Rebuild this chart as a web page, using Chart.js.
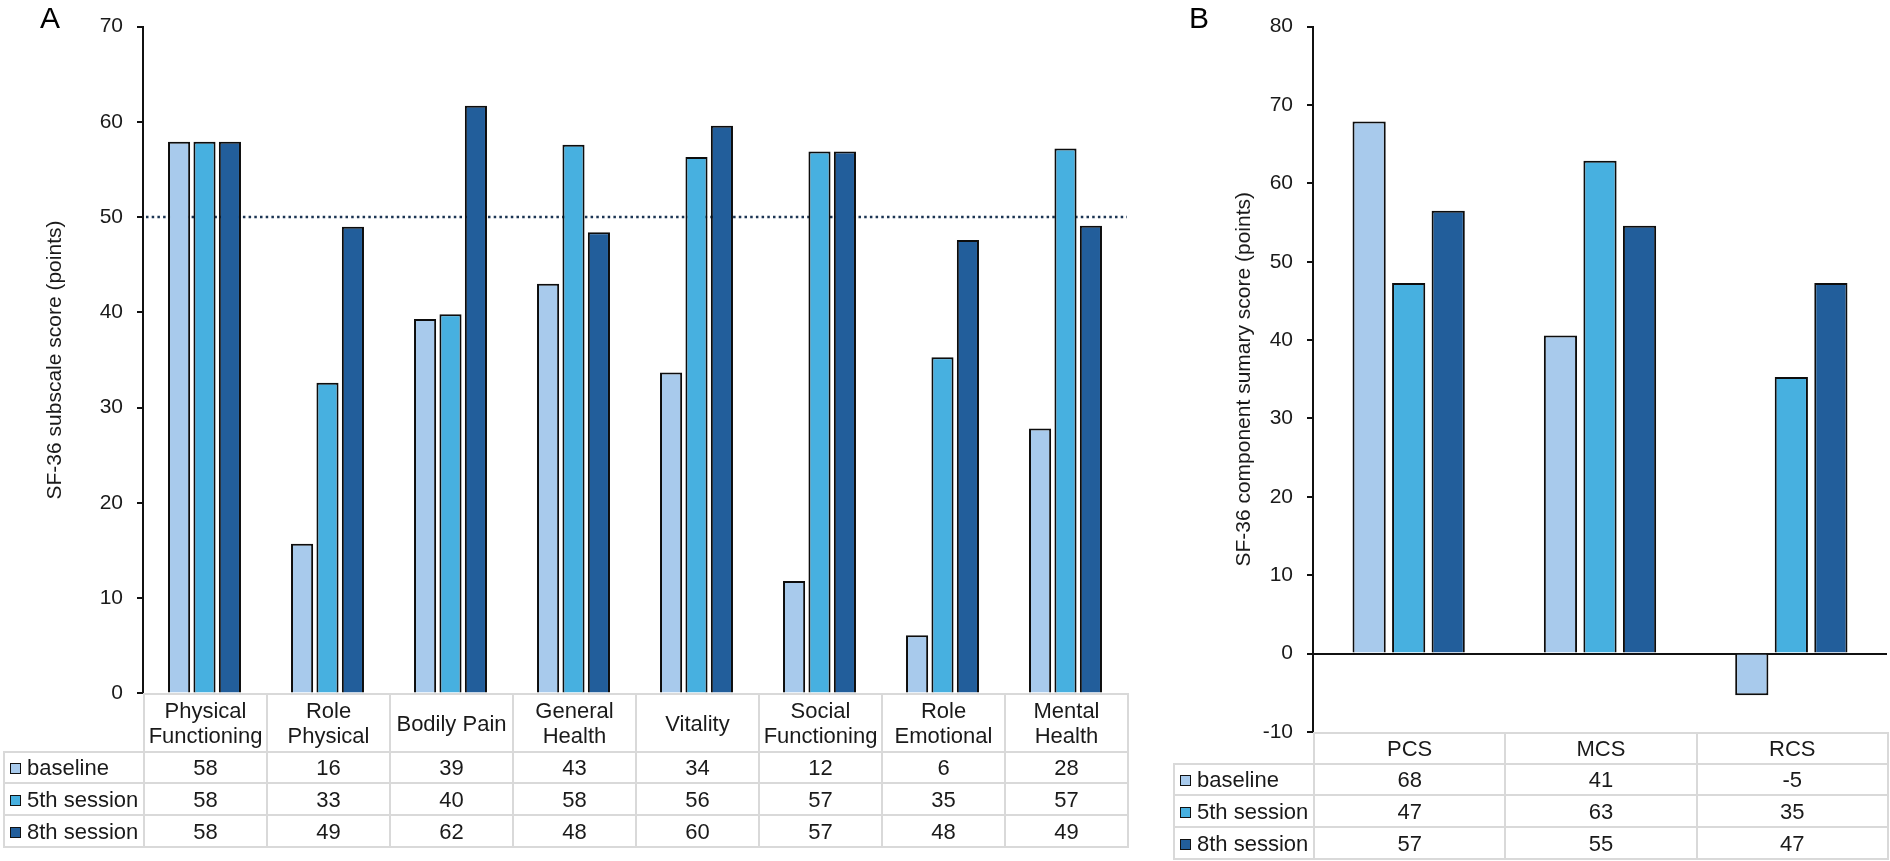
<!DOCTYPE html>
<html>
<head>
<meta charset="utf-8">
<script src="https://cdn.jsdelivr.net/npm/chart.js@4.4.0/dist/chart.umd.min.js"></script>
<style>
body { margin:0; background:#fff; font-family:"Liberation Sans", Arial, sans-serif; }
#page { position:relative; width:1890px; height:861px; overflow:hidden; background:#fff; }
canvas { position:absolute; top:0; }
#cA { left:0; }
#cB { left:1170px; }
.panel { position:absolute; font-size:30px; line-height:30px; color:#000; }
table.dt { position:absolute; border-collapse:collapse; table-layout:fixed; font-size:22px; color:#1a1a1a; }
table.dt td { border:2px solid #d9d9d9; text-align:center; padding:0; line-height:25px; overflow:hidden; }
table.dt td.lab { text-align:left; padding-left:5px; white-space:nowrap; }
table.dt td.corner { border-top:none; border-left:none; }
.sw { display:inline-block; width:9px; height:9px; border:1.5px solid #111; margin-right:6px; vertical-align:1px; }
</style>
</head>
<body>
<div id="page">
  <canvas id="cA" width="1130" height="720"></canvas>
  <canvas id="cB" width="720" height="760"></canvas>
  <div class="panel" style="left:40px; top:3px">A</div>
  <div class="panel" style="left:1189px; top:3px">B</div>
</div>
<script>
// dane - wykres A (podskale SF-36)
const subscales = [['Physical', 'Functioning'], ['Role', 'Physical'], 'Bodily Pain', ['General', 'Health'], 'Vitality', ['Social', 'Functioning'], ['Role', 'Emotional'], ['Mental', 'Health']]
const baselineA = [57.9, 15.7, 39.3, 43.0, 33.7, 11.8, 6.1, 27.8]
const session5A = [57.9, 32.6, 39.8, 57.6, 56.3, 56.9, 35.3, 57.2]
const session8A = [57.9, 49.0, 61.7, 48.4, 59.6, 56.9, 47.6, 49.1]

// dane - wykres B (skale sumaryczne)
const summaries = ['PCS', 'MCS', 'RCS']
const baselineB = [67.9, 40.6, -5.3]
const session5B = [47.3, 62.9, 35.3]
const session8B = [56.5, 54.6, 47.3]

const seriesNames = ['baseline', '5th session', '8th session']
const seriesColors = ['#a8caec', '#47b0e0', '#225e9b']
const normValue = 50

Chart.defaults.font.family = '"Liberation Sans", Arial, sans-serif'
Chart.defaults.color = '#1a1a1a'

// kropkowana linia normy
const normLinePlugin = {
  id: 'normLine',
  beforeDatasetsDraw(chart, args, opts) {
    if (opts.value == null) return
    const y = chart.scales.y.getPixelForValue(opts.value)
    const ctx = chart.ctx
    ctx.save()
    ctx.strokeStyle = '#1c3553'
    ctx.lineWidth = 2.5
    ctx.setLineDash([2.5, 3.2])
    ctx.beginPath()
    ctx.moveTo(chart.chartArea.left + 3, y)
    ctx.lineTo(chart.chartArea.right, y)
    ctx.stroke()
    ctx.restore()
  }
}

function makeChart(id, labels, series, cfg) {
  const datasets = series.map((d, i) => ({
    label: seriesNames[i],
    data: d,
    backgroundColor: seriesColors[i],
    borderColor: '#0d0d0d',
    borderWidth: 2,
    categoryPercentage: 0.62,
    barPercentage: cfg.barPct
  }))
  return new Chart(document.getElementById(id), {
    type: 'bar',
    data: { labels: labels, datasets: datasets },
    plugins: [normLinePlugin],
    options: {
      responsive: false,
      animation: false,
      devicePixelRatio: 1,
      layout: { padding: cfg.padding },
      plugins: {
        legend: { display: false },
        tooltip: { enabled: false },
        normLine: { value: cfg.norm }
      },
      scales: {
        x: { display: false },
        y: {
          min: cfg.min,
          max: cfg.max,
          afterFit: s => { s.width = 143 },
          ticks: { stepSize: 10, padding: 14, color: '#1a1a1a', font: { size: 21 } },
          border: { display: true, color: '#111', width: 2 },
          grid: {
            drawOnChartArea: cfg.zeroLine,
            color: c => (c.tick && c.tick.value === 0) ? '#111' : 'rgba(0,0,0,0)',
            lineWidth: 2,
            tickLength: 6,
            tickColor: '#111',
            tickWidth: 2
          },
          title: {
            display: true,
            text: cfg.title,
            color: '#1a1a1a',
            font: { size: cfg.titleSize },
            padding: { top: cfg.titlePad, bottom: 0 }
          }
        }
      }
    }
  })
}

// tabela danych pod wykresem
function buildTable(chart, canvasLeft, labels, series, headH) {
  const area = chart.chartArea
  const n = labels.length
  const colW = (area.right - area.left) / n
  const labW = 140
  const t = document.createElement('table')
  t.className = 'dt'
  t.style.left = (canvasLeft + area.left - labW) + 'px'
  t.style.top = area.bottom + 'px'
  t.style.width = (labW + colW * n) + 'px'

  const cg = document.createElement('colgroup')
  const c0 = document.createElement('col')
  c0.style.width = labW + 'px'
  cg.appendChild(c0)
  for (let i = 0; i < n; i++) {
    const c = document.createElement('col')
    c.style.width = colW + 'px'
    cg.appendChild(c)
  }
  t.appendChild(cg)

  const head = document.createElement('tr')
  head.style.height = headH + 'px'
  const corner = document.createElement('td')
  corner.className = 'corner'
  head.appendChild(corner)
  for (let i = 0; i < n; i++) {
    const td = document.createElement('td')
    td.innerHTML = Array.isArray(labels[i]) ? labels[i].join('<br>') : labels[i]
    head.appendChild(td)
  }
  t.appendChild(head)

  for (let s = 0; s < series.length; s++) {
    const tr = document.createElement('tr')
    tr.style.height = (s == 0 ? 31 : 32) + 'px'
    const lab = document.createElement('td')
    lab.className = 'lab'
    lab.innerHTML = '<span class="sw" style="background:' + seriesColors[s] + '"></span>' + seriesNames[s]
    tr.appendChild(lab)
    for (let i = 0; i < n; i++) {
      const td = document.createElement('td')
      td.textContent = Math.round(series[s][i])
      tr.appendChild(td)
    }
    t.appendChild(tr)
  }
  document.getElementById('page').appendChild(t)
}

const chartA = makeChart('cA', subscales, [baselineA, session5A, session8A], {
  min: 0, max: 70, barPct: 0.87, norm: normValue, zeroLine: false,
  padding: { left: 0, top: 19, right: 3, bottom: 15 },
  title: 'SF-36 subscale score (points)', titleSize: 21, titlePad: 43
})
buildTable(chartA, 0, subscales, [baselineA, session5A, session8A], 58)

const chartB = makeChart('cB', summaries, [baselineB, session5B, session8B], {
  min: -10, max: 80, barPct: 0.84, norm: null, zeroLine: true,
  padding: { left: 0, top: 14, right: 3, bottom: 28 },
  title: 'SF-36 component sumary score (points)', titleSize: 21, titlePad: 62
})
buildTable(chartB, 1170, summaries, [baselineB, session5B, session8B], 31)
</script>
</body>
</html>
